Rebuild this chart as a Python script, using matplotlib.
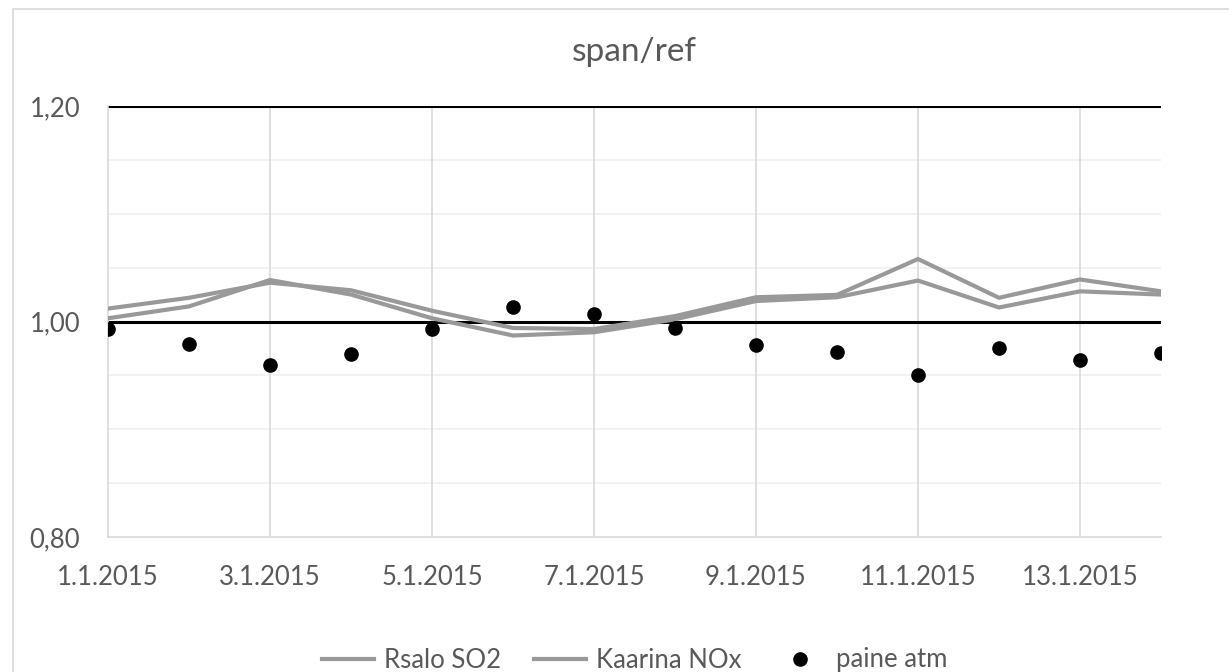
import numpy as np
import matplotlib
matplotlib.use("Agg")
import matplotlib.pyplot as plt
from matplotlib.patches import Rectangle
from matplotlib.ticker import MultipleLocator, FixedLocator, FuncFormatter

plt.rcParams['font.family'] = ['Lato', 'DejaVu Sans']

# data
dates = ["1.1.2015", "2.1.2015", "3.1.2015", "4.1.2015", "5.1.2015", "6.1.2015", "7.1.2015",
         "8.1.2015", "9.1.2015", "10.1.2015", "11.1.2015", "12.1.2015", "13.1.2015", "14.1.2015"]
rsalo_so2 = [1.012, 1.022, 1.036, 1.029, 1.010, 0.994, 0.993,
             1.005, 1.0225, 1.0247, 1.058, 1.022, 1.039, 1.028]
kaarina_nox = [1.003, 1.014, 1.0385, 1.025, 1.003, 0.987, 0.990,
               1.002, 1.019, 1.0225, 1.038, 1.013, 1.028, 1.025]
paine_atm = [0.993, 0.979, 0.960, 0.970, 0.993, 1.0135, 1.007,
             0.994, 0.978, 0.972, 0.950, 0.9756, 0.964, 0.9706]

text_col = '#595959'
line_col = '#999999'

fig = plt.figure(figsize=(12.29, 6.72), dpi=100)
ax = fig.add_axes([108 / 1229, 1 - 537 / 672, (1161 - 108) / 1229, (537 - 106) / 672])

x = np.arange(len(dates))

# light minor gridlines and vertical gridlines
for v in np.arange(0.85, 1.20, 0.05):
    if abs(v - 1.0) > 1e-6:
        ax.axhline(v, color='#f0f0f0', lw=1.2, zorder=0)
for xi in x[::2][1:]:
    ax.axvline(xi, color='#d9d9d9', lw=1.2, zorder=0)
# major gridlines
ax.axhline(1.20, color='black', lw=2.2, zorder=1)
ax.axhline(1.00, color='black', lw=2.2, zorder=1)

ax.plot(x, rsalo_so2, color=line_col, lw=3.0, label='Rsalo SO2', zorder=3)
ax.plot(x, kaarina_nox, color=line_col, lw=3.0, label='Kaarina NOx', zorder=3)
ax.plot(x, paine_atm, 'o', color='black', ms=9.5, label='paine atm', zorder=4)

ax.set_xlim(0, len(dates) - 1)
ax.set_ylim(0.80, 1.20)
ax.yaxis.set_major_locator(MultipleLocator(0.2))
ax.yaxis.set_major_formatter(FuncFormatter(lambda v, p: f"{v:.2f}".replace('.', ',')))
ax.xaxis.set_major_locator(FixedLocator(x[::2]))
ax.set_xticklabels(dates[::2])

ax.tick_params(axis='both', length=0, labelsize=18.5, colors=text_col)
ax.tick_params(axis='x', pad=20)
ax.tick_params(axis='y', pad=20)

for side in ['top', 'right']:
    ax.spines[side].set_visible(False)
for side in ['left', 'bottom']:
    ax.spines[side].set_color('#d9d9d9')
    ax.spines[side].set_linewidth(1.2)

fig.text(634 / 1229, 1 - 52 / 672, 'span/ref', ha='center', va='center',
         fontsize=24, color=text_col)

fig.legend(loc='center', bbox_to_anchor=(635 / 1229, 1 - 660 / 672), ncol=3,
           frameon=False, fontsize=18.5, labelcolor=text_col, handlelength=2.0,
           handletextpad=0.4, columnspacing=1.3)

# outer chart border
fig.patches.append(Rectangle((13 / 1229, -0.1), 1.2, 1.1 - 9 / 672,
                             transform=fig.transFigure, fill=False,
                             edgecolor='#d9d9d9', lw=1.2))

fig.savefig('out.png', dpi=100)
